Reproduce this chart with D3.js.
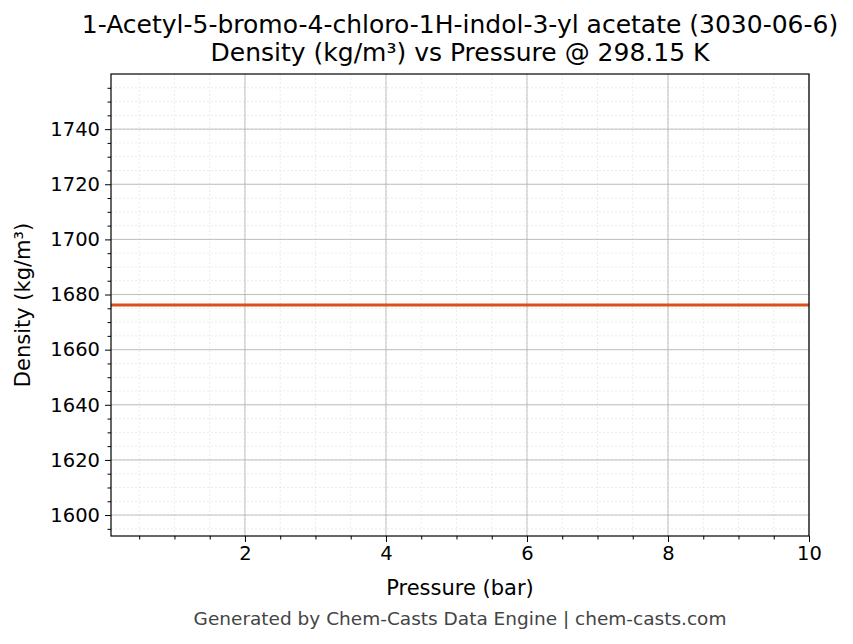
<!DOCTYPE html>
<html><head><meta charset="utf-8">
<script src="https://cdn.jsdelivr.net/npm/d3@7"></script>
<style>body{margin:0;background:#fff;font-family:"DejaVu Sans",sans-serif}</style>
</head><body><svg id="c" width="853" height="644"></svg>
<script>
const pressure = [0.1, 1, 2, 3, 4, 5, 6, 7, 8, 9, 10];
const density = [1676.2, 1676.2, 1676.2, 1676.2, 1676.2, 1676.2, 1676.2, 1676.2, 1676.2, 1676.2, 1676.2];
const xTicks = [2, 4, 6, 8, 10];
const yTicks = [1600, 1620, 1640, 1660, 1680, 1700, 1720, 1740];

const svg = d3.select('#c');
const m = {l: 111, r: 809, t: 74, b: 536};
const x = d3.scaleLinear().domain([0.1, 10]).range([m.l, m.r]);
const y = d3.scaleLinear().domain([1592.4, 1760]).range([m.b, m.t]);

const xMinor = d3.range(0.5, 10.01, 0.5).filter(v => v >= 0.1);
const yMinor = d3.range(1595, 1760, 5);
const g = svg.append('g');
g.selectAll('.xm').data(xMinor).enter().append('line')
    .attr('x1', d => x(d)).attr('x2', d => x(d)).attr('y1', m.t).attr('y2', m.b)
    .attr('stroke', '#ddd').attr('stroke-width', 0.6).attr('stroke-dasharray', '2,2');
g.selectAll('.ym').data(yMinor).enter().append('line')
    .attr('y1', d => y(d)).attr('y2', d => y(d)).attr('x1', m.l).attr('x2', m.r)
    .attr('stroke', '#ddd').attr('stroke-width', 0.6).attr('stroke-dasharray', '2,2');
g.selectAll('.xg').data(xTicks).enter().append('line')
    .attr('x1', d => x(d)).attr('x2', d => x(d)).attr('y1', m.t).attr('y2', m.b)
    .attr('stroke', '#b0b0b0').attr('stroke-width', 0.8);
g.selectAll('.yg').data(yTicks).enter().append('line')
    .attr('y1', d => y(d)).attr('y2', d => y(d)).attr('x1', m.l).attr('x2', m.r)
    .attr('stroke', '#b0b0b0').attr('stroke-width', 0.8);

svg.append('path').datum(pressure.map((p, i) => [p, density[i]]))
    .attr('d', d3.line().x(d => x(d[0])).y(d => y(d[1])))
    .attr('fill', 'none').attr('stroke', '#d9501e').attr('stroke-width', 3);

svg.append('g').attr('transform', `translate(0,${m.b})`)
    .call(d3.axisBottom(x).tickValues(xTicks).tickSize(6).tickPadding(4).tickFormat(d3.format('d')));
svg.append('g').attr('transform', `translate(0,${m.b})`)
    .call(d3.axisBottom(x).tickValues(xMinor.filter(v => !xTicks.includes(v))).tickSize(3.5).tickFormat(''))
    .select('.domain').remove();
svg.append('g').attr('transform', `translate(${m.l},0)`)
    .call(d3.axisLeft(y).tickValues(yTicks).tickSize(6).tickPadding(5).tickFormat(d3.format('d')));
svg.append('g').attr('transform', `translate(${m.l},0)`)
    .call(d3.axisLeft(y).tickValues(yMinor.filter(v => v % 20 !== 0)).tickSize(3.5).tickFormat(''))
    .select('.domain').remove();
svg.selectAll('.tick text').attr('font-size', 19.5).attr('fill', '#000').attr('font-family', 'DejaVu Sans');
svg.selectAll('.tick line').attr('stroke', '#000');
svg.selectAll('.domain').remove();
svg.append('rect').attr('x', m.l).attr('y', m.t).attr('width', m.r - m.l).attr('height', m.b - m.t)
    .attr('fill', 'none').attr('stroke', '#000').attr('stroke-width', 1.2);

const t = (tx, ty, s, size) => svg.append('text').attr('x', tx).attr('y', ty).attr('text-anchor', 'middle')
    .attr('font-size', size).attr('fill', '#000').text(s);
t(460, 33, '1-Acetyl-5-bromo-4-chloro-1H-indol-3-yl acetate (3030-06-6)', 25);
t(460, 61, 'Density (kg/m³) vs Pressure @ 298.15 K', 25);
t(460, 595, 'Pressure (bar)', 21);
t(0, 0, 'Density (kg/m³)', 21).attr('transform', 'translate(30,305) rotate(-90)');
t(460, 625, 'Generated by Chem-Casts Data Engine | chem-casts.com', 18.5).attr('fill', '#444');
</script></body></html>
